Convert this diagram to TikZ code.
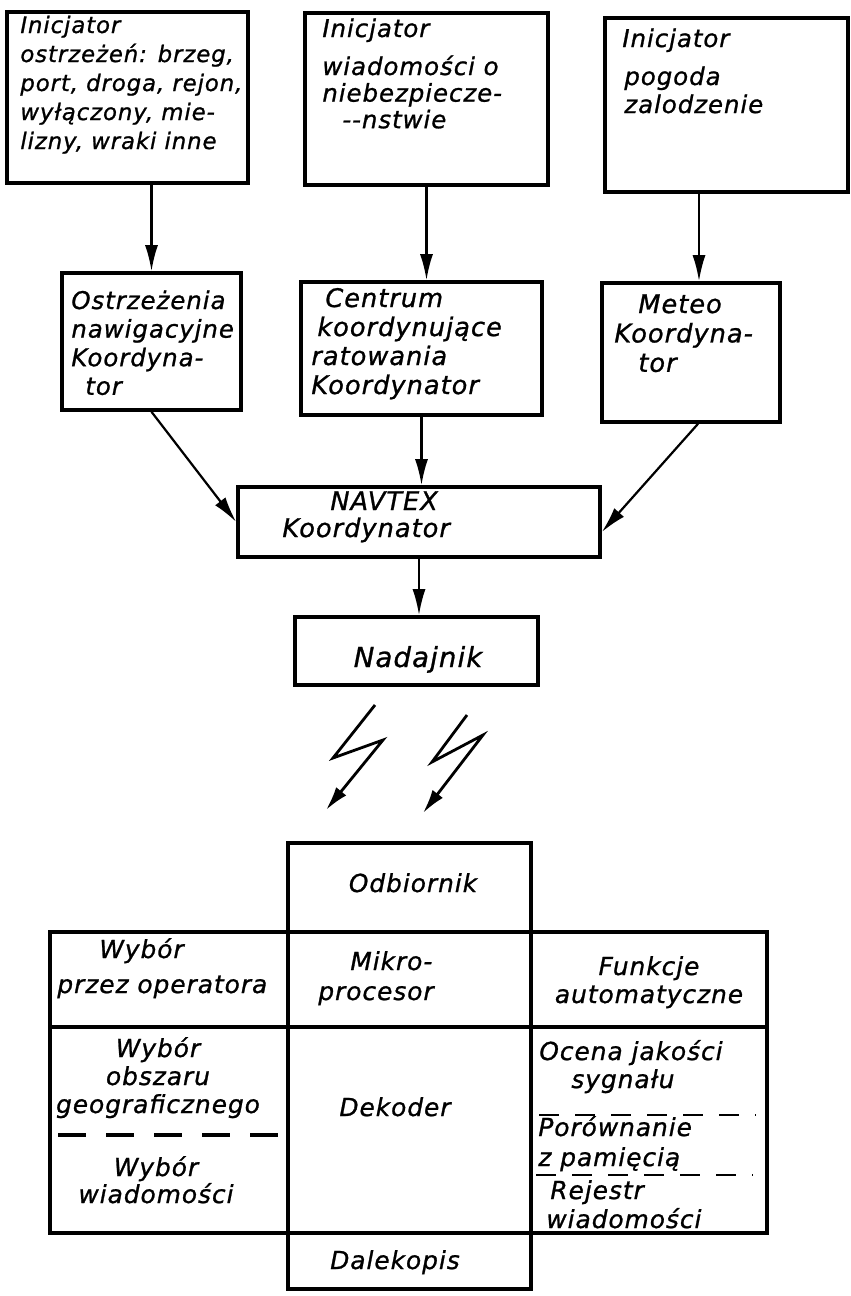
\documentclass[tikz,border=0pt]{standalone}
\usepackage{fontspec}
\newfontfamily\hand[LetterSpace=4,FakeBold=1]{DejaVu Sans}
\usetikzlibrary{arrows.meta,fit}
\newcommand{\lnL}[2][\baselineskip]{\vtop{\baselineskip=#1\relax\halign{##\hfil\cr#2\crcr}}}
\newcommand{\lnC}[2][\baselineskip]{\vtop{\baselineskip=#1\relax\halign{\hfil##\hfil\cr#2\crcr}}}
\begin{document}
\begin{tikzpicture}[x=0.5pt,y=-0.5pt,
  box/.style={draw, line width=1.8pt, inner sep=0pt},
  arr/.style={line width=1.1pt, -{Latex[length=13pt,width=6.5pt]}},
  bolt/.style={line width=1.4pt, line join=miter, -{Latex[length=12pt,width=6.5pt]}},
  tS/.style={inner sep=0pt, anchor=base west, font={\hand\itshape\fontsize{11.4}{14.5}\selectfont}},
  tS2/.style={inner sep=0pt, anchor=base west, font={\hand\itshape\fontsize{12.2}{14.5}\selectfont}},
  tM/.style={inner sep=0pt, anchor=base west, font={\hand\itshape\fontsize{12.8}{14.4}\selectfont}},
  tT/.style={inner sep=0pt, anchor=base west, font={\hand\itshape\fontsize{12.4}{14.5}\selectfont}},
  dashA/.style={line width=1.6pt, dash pattern=on 14pt off 10pt},
  dashB/.style={line width=1.1pt, dash pattern=on 10pt off 8pt}
]
\path[use as bounding box, fill=white] (0,0) rectangle (851,1296);

% top row
\node[box, fit={(7,12)(248,183)}] (A) {};
\node[box, fit={(305,13)(548,185)}] (B) {};
\node[box, fit={(605,18)(848,192)}] (C) {};
\node[tS] (tA) at (20,33) {\lnL{Inicjator\cr ostrzeżeń: brzeg,\cr port, droga, rejon,\cr wyłączony, mie-\cr lizny, wraki inne}};
\node[tS2] (tB1) at (322,37) {Inicjator};
\node[tS2] (tB2) at (322,75) {\lnL[13.3pt]{wiadomości o\cr niebezpiecze-\cr \hspace{10pt}-{}-nstwie}};
\node[tS2] (tC1) at (622,47) {Inicjator};
\node[tS2] (tC2) at (624,85) {\lnL[14pt]{pogoda\cr zalodzenie}};

% second row
\node[box, fit={(62,273)(241,410)}] (Ao) {};
\node[box, fit={(301,282)(542,415)}] (Ce) {};
\node[box, fit={(602,283)(780,422)}] (Mt) {};
\node[tM, font={\hand\itshape\fontsize{12.2}{14.3}\selectfont}] (tAo) at (71,309) {\lnL[14.3pt]{Ostrzeżenia\cr nawigacyjne\cr Koordyna-\cr \hspace{7pt}tor}};
\node[tM] (tCe) at (311,307) {\lnL[14.5pt]{\hspace{7pt}Centrum\cr \hspace{3pt}koordynujące\cr ratowania\cr Koordynator}};
\node[tM] (tMt) at (614,313) {\lnL[14.7pt]{\hspace{12pt}Meteo\cr Koordyna-\cr \hspace{12pt}tor}};

\draw[arr] (A.south -| Ao.north) -- (Ao.north);
\draw[arr] (B.south) -- (B.south |- Ce.north);
\draw[arr] ([xshift=4pt]C.south -| Mt.north) -- ([xshift=4pt]Mt.north);

% NAVTEX
\node[box, fit={(238,487)(600,557)}] (Nv) {};
\node[tM] (tNv) at (282,510) {\lnL[13.5pt]{\hspace{24pt}NAVTEX\cr Koordynator}};
\draw[arr] (Ao.south) -- (Nv.west);
\draw[arr] (Ce.south) -- (Ce.south |- Nv.north);
\draw[arr] ([xshift=3.5pt]Mt.south) -- ([yshift=-5pt]Nv.east);

% Nadajnik
\node[box, fit={(295,617)(538,685)}] (Nd) {};
\node[tM, anchor=base, font={\hand\itshape\fontsize{13.8}{14.4}\selectfont}] (tNd) at (418,667) {Nadajnik};
\draw[arr] (Nv.south) -- (Nv.south |- Nd.north);

% lightning bolts
\coordinate (b1a) at (375,705); \coordinate (b1b) at (333,758);
\coordinate (b1c) at (383,740); \coordinate (b1d) at (326,810);
\coordinate (b2a) at (467,715); \coordinate (b2b) at (432,762);
\coordinate (b2c) at (483,735); \coordinate (b2d) at (423,813);
\draw[bolt] (b1a) -- (b1b) -- (b1c) -- (b1d);
\draw[bolt] (b2a) -- (b2b) -- (b2c) -- (b2d);

% receiver block
\node[box, fit={(288,843)(531,1289)}] (Od) {};
\node[box, fit={(50,932)(767,1233)}] (Tb) {};
\draw[line width=1.8pt] (Tb.west |- 0,1027) -- (Tb.east |- 0,1027);

\node[tT, anchor=base] (tOd) at (413,892) {Odbiornik};
\node[tT] (tMk) at (318,970) {\lnL[15pt]{\hspace{16pt}Mikro-\cr procesor}};
\node[tT, anchor=base] (tDk) at (395,1116) {Dekoder};
\node[tT, anchor=base] (tDp) at (395,1269) {Dalekopis};

\node[tT] (tW1) at (57,958) {\lnL[17.5pt]{\hspace{21pt}Wybór\cr przez operatora}};
\node[tT, anchor=base] (tW2) at (158,1057) {\lnC[14pt]{Wybór\cr obszaru\cr geograficznego}};
\node[tT, anchor=base] (tW3) at (156,1176) {\lnC[13.5pt]{Wybór\cr wiadomości}};
\draw[dashA] (58,1135) -- (284,1135);

\node[tT, anchor=base] (tF) at (649,975) {\lnC[14pt]{Funkcje\cr automatyczne}};
\node[tT] (tOc) at (539,1060) {\lnL[14pt]{Ocena jakości\cr \hspace{16pt}sygnału}};
\draw[dashB] (539,1115) -- (756,1115);
\node[tT] (tPo) at (538,1136) {\lnL[15pt]{Porównanie\cr z pamięcią}};
\draw[dashB] (536,1175) -- (753,1175);
\node[tT] (tRe) at (546,1199) {\lnL[14.5pt]{\hspace{2pt}Rejestr\cr wiadomości}};
\end{tikzpicture}
\end{document}
